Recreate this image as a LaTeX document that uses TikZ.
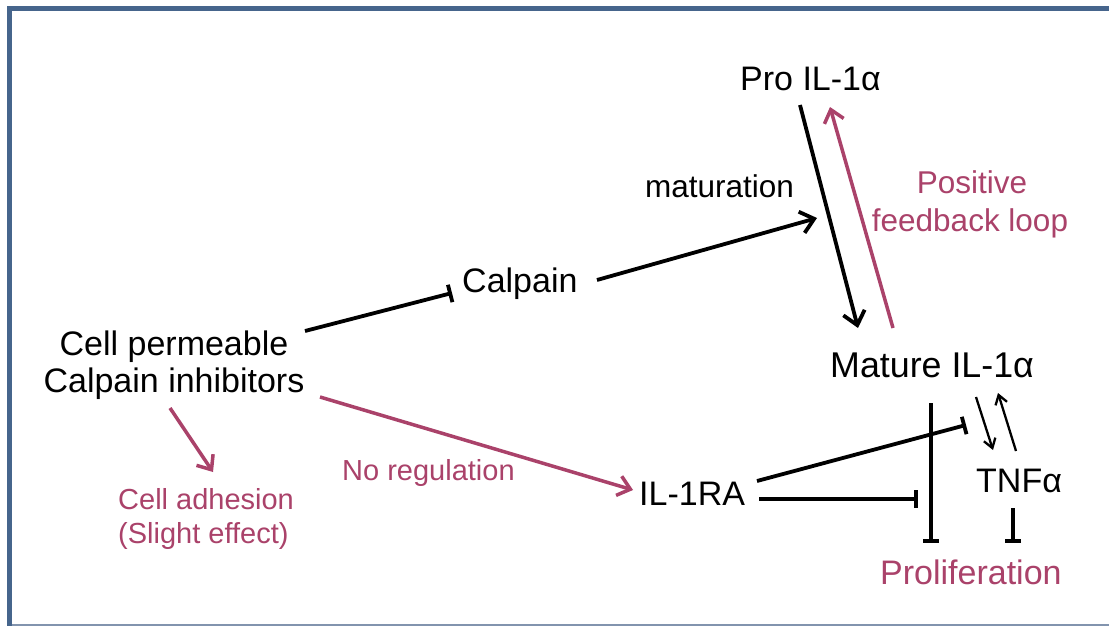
\documentclass[tikz,border=0pt]{standalone}
\usepackage{fontspec}
\setmainfont{Liberation Sans}
\usetikzlibrary{arrows.meta,calc}
\definecolor{frameblue}{RGB}{70,101,140}
\definecolor{framelight}{RGB}{130,148,174}
\definecolor{rose}{RGB}{170,66,106}
\begin{document}
\begin{tikzpicture}[x=1pt,y=-1pt,
  lbl/.style={inner sep=0pt, anchor=base west, font=\fontsize{34}{37}\selectfont},
  midlbl/.style={lbl, font=\fontsize{31.5}{36}\selectfont},
  pinklbl/.style={lbl, text=rose, font=\fontsize{29}{34}\selectfont},
  act/.style={line width=3.8pt, -{Straight Barb[length=13pt,width=22pt]}},
  inh/.style={line width=3.8pt, -{Bar[width=18pt]}},
  pact/.style={draw=rose, line width=3.5pt, -{Straight Barb[length=12pt,width=20pt]}},
  thinact/.style={line width=2.3pt, -{Straight Barb[length=9pt,width=12pt]}},
]
\useasboundingbox (0,0) rectangle (1109,626);
\fill[white] (0,0) rectangle (1109,626);
% frame
\draw[frameblue, line width=5pt] (9.75,626) -- (9.75,8.5) -- (1109,8.5);
\draw[framelight, line width=1.5pt] (12,625) -- (1109,625);

% nodes
\node[lbl, anchor=base, align=center] (cpi) at (174,392) {Cell permeable\\Calpain inhibitors};
\node[lbl] (calpain) at (462,292) {Calpain};
\node[lbl] (pro) at (740,91) {Pro IL-1α};
\node[lbl, font=\fontsize{35.8}{39}\selectfont] (mature) at (830,377) {Mature IL-1α};
\node[lbl] (il1ra) at (639,505) {IL-1RA};
\node[lbl] (tnf) at (976,492) {TNFα};
\node[lbl, text=rose, font=\fontsize{34}{37}\selectfont] (prolif) at (880,584) {Proliferation};
\node[midlbl] (maturation) at (645,197) {maturation};
\node[midlbl, text=rose, anchor=base] (positive) at (972,193) {Positive};
\node[midlbl, text=rose, anchor=base] (feedback) at (970,231) {feedback loop};
\node[pinklbl] (noreg) at (342,480) {No regulation};
\node[pinklbl] (adhesion) at (118,509) {Cell adhesion};
\node[pinklbl] (slight) at (118,543) {(Slight effect)};

% free ends
\coordinate (matpt) at (817,218);
\coordinate (inhpt) at (966,425);
\coordinate (barpt) at (918,499);

% connectors
\draw[inh] ($(cpi.base)+(131,-61)$) -- ($(calpain.base west)+(-10,1)$);
\draw[act] ($(calpain.base west)+(135,-12)$) -- (matpt);
\draw[act] ($(pro.base west)+(60,14)$) -- ($(mature.base west)+(28,-49)$);
\draw[pact] ($(mature.base west)+(63,-49)$) -- ($(pro.base west)+(90,16)$);
\draw[pact] ($(cpi.base)+(146,5)$) -- ($(il1ra.base west)+(-6,-15)$);
\draw[pact] ($(cpi.base)+(-4,16)$) -- ($(adhesion.base west)+(95,-37)$);
\draw[inh] ($(il1ra.base west)+(118,-24)$) -- (inhpt);
\draw[inh] ($(il1ra.base west)+(120,-6)$) -- (barpt);
\draw[inh, -{Bar[width=16pt]}] ($(mature.base west)+(101,26)$) -- ($(prolif.base west)+(51,-41)$);
\draw[inh, -{Bar[width=16pt]}] ($(tnf.base west)+(37,16)$) -- ($(prolif.base west)+(133,-41)$);
\draw[thinact] ($(mature.base west)+(146,20)$) -- ($(tnf.base west)+(17,-42)$);
\draw[thinact] ($(tnf.base west)+(40,-41)$) -- ($(mature.base west)+(168,16)$);
\end{tikzpicture}
\end{document}
